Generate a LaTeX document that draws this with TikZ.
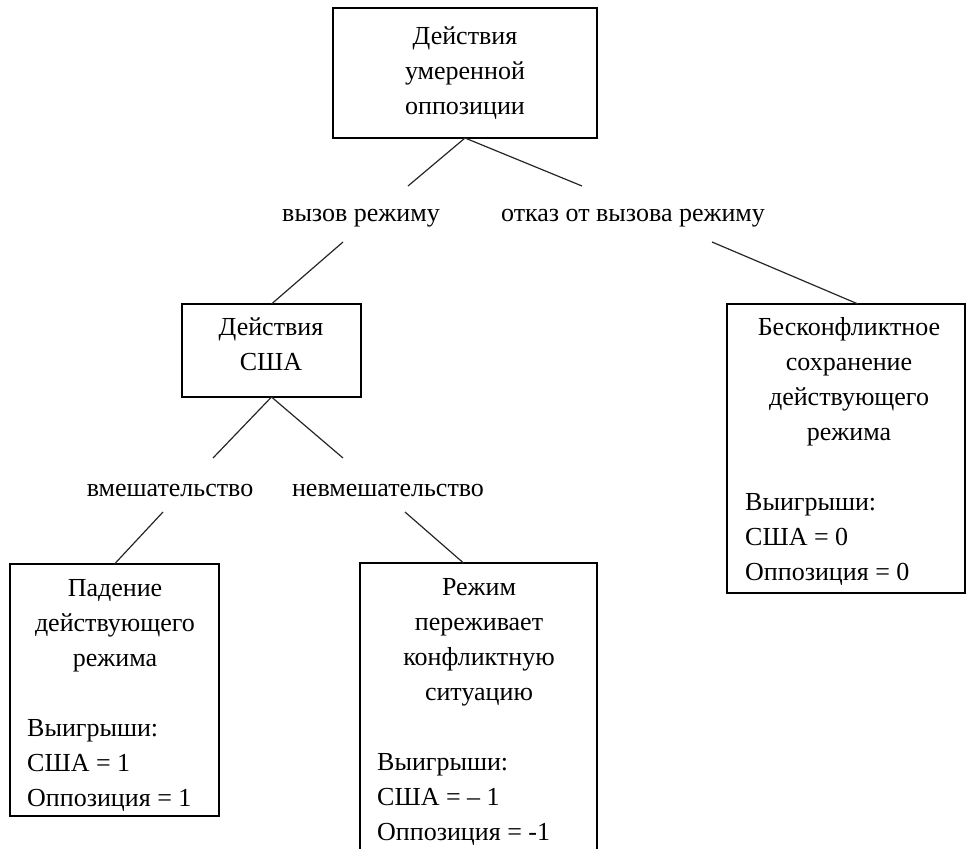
\documentclass[tikz,border=0pt]{standalone}
\usepackage{fontspec}
\setmainfont{Liberation Serif}
\begin{document}
\begin{tikzpicture}[x=1bp,y=-1bp,
  every node/.style={font=\fontsize{26bp}{35bp}\selectfont},
  box/.style={draw, line width=1.4bp, inner sep=0pt, outer sep=0pt, anchor=north west},
  txt/.style={anchor=base, inner sep=0pt},
  ltxt/.style={anchor=base west, inner sep=0pt},
  link/.style={line width=1.2bp, draw=black!85}]
\useasboundingbox (0,0) rectangle (966,849);

% boxes
\node[box, minimum width=264bp, minimum height=130bp] (top) at (333,8) {};
\node[box, minimum width=179bp, minimum height=93bp] (usa) at (182,304) {};
\node[box, minimum width=209bp, minimum height=252bp] (fall) at (10,564) {};
\node[box, minimum width=237bp, minimum height=320bp] (surv) at (360,563) {};
\node[box, minimum width=238bp, minimum height=289bp] (keep) at (727,304) {};

% top box text
\node[txt] (t1) at (465,44) {Действия};
\node[txt] (t2) at (465,79) {умеренной};
\node[txt] (t3) at (465,114) {оппозиции};

% USA box text
\node[txt] (u1) at (271,335) {Действия};
\node[txt] (u2) at (271,370) {США};

% branch labels
\node[txt] (lchal) at (361,221) {вызов режиму};
\node[txt] (lnochal) at (633,221) {отказ от вызова режиму};
\node[txt] (lint) at (170,496) {вмешательство};
\node[txt] (lnoint) at (388,496) {невмешательство};

% fall box text
\node[txt] (f1) at (115,596) {Падение};
\node[txt] (f2) at (115,631) {действующего};
\node[txt] (f3) at (115,666) {режима};
\node[ltxt] (f4) at (27,736) {Выигрыши:};
\node[ltxt] (f5) at (27,771) {США = 1};
\node[ltxt] (f6) at (27,806) {Оппозиция = 1};

% survive box text
\node[txt] (s1) at (479,595) {Режим};
\node[txt] (s2) at (479,630) {переживает};
\node[txt] (s3) at (479,665) {конфликтную};
\node[txt] (s4) at (479,700) {ситуацию};
\node[ltxt] (s5) at (377,770) {Выигрыши:};
\node[ltxt] (s6) at (377,805) {США = – 1};
\node[ltxt] (s7) at (377,840) {Оппозиция = -1};

% keep box text
\node[txt] (k1) at (849,335) {Бесконфликтное};
\node[txt] (k2) at (849,370) {сохранение};
\node[txt] (k3) at (849,405) {действующего};
\node[txt] (k4) at (849,440) {режима};
\node[ltxt] (k5) at (745,510) {Выигрыши:};
\node[ltxt] (k6) at (745,545) {США = 0};
\node[ltxt] (k7) at (745,580) {Оппозиция = 0};

% free ends of connectors
\coordinate (a1) at (408,186);
\coordinate (a2) at (582,186);
\coordinate (b1) at (343,242);
\coordinate (b2) at (712,242);
\coordinate (c1) at (213,458);
\coordinate (c2) at (343,458);
\coordinate (d1) at (163,512);
\coordinate (d2) at (405,512);

% connectors
\draw[link] (top.south) -- (a1);
\draw[link] (top.south) -- (a2);
\draw[link] (b1) -- (usa.north);
\draw[link] (b2) -- ([xshift=12bp]keep.north);
\draw[link] (usa.south) -- (c1);
\draw[link] (usa.south) -- (c2);
\draw[link] (d1) -- (fall.north);
\draw[link] (d2) -- ([xshift=-15bp]surv.north);
\end{tikzpicture}
\end{document}
